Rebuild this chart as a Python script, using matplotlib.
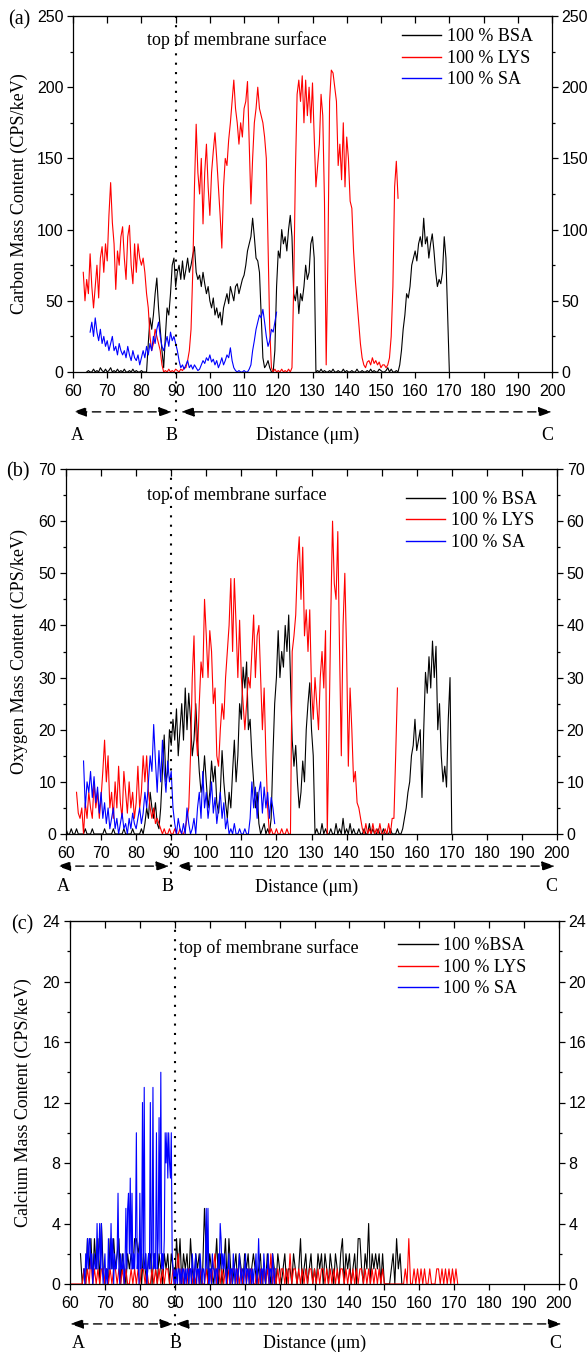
import numpy as np
import matplotlib
matplotlib.use("Agg")
import matplotlib.pyplot as plt
from matplotlib.ticker import MultipleLocator

# ---------------------- DATA -------------------------------------------------------
# every series is a scan on an even grid: first distance (um) + step, then the counts
STEP = 0.5

# (a) carbon
carbon_bsa_start = 64.0
carbon_bsa = [0, 1, 0, 0, 2, 0, 1, 0, 3, 1,
              0, 2, 0, 1, 3, 0, 1, 0, 2, 0,
              1, 0, 2, 0, 0, 1, 0, 2, 0, 1,
              0, 0, 1, 0, 0, 0, 20, 38, 30, 40,
              55, 66, 45, 30, 15, 3, 25, 45, 40, 55,
              75, 80, 60, 70, 75, 65, 78, 65, 72, 80,
              70, 75, 82, 88, 70, 65, 68, 60, 70, 62,
              55, 60, 50, 45, 52, 40, 45, 38, 42, 33,
              45, 50, 55, 48, 60, 55, 50, 60, 62, 55,
              60, 65, 68, 75, 85, 90, 95, 108, 95, 80,
              78, 70, 40, 10, 3, 5, 8, 3, 0, 0,
              15, 60, 85, 80, 100, 90, 95, 85, 100, 110,
              95, 55, 50, 60, 41, 55, 50, 60, 75, 65,
              70, 90, 95, 80, 0, 1, 0, 2, 0, 1,
              0, 0, 1, 0, 2, 0, 0, 1, 0, 0,
              2, 0, 1, 0, 0, 1, 0, 0, 2, 0,
              0, 1, 0, 0, 1, 0, 2, 0, 1, 0,
              0, 2, 1, 0, 0, 1, 3, 0, 2, 0,
              0, 1, 0, 5, 15, 30, 40, 55, 52, 60,
              75, 80, 85, 78, 90, 95, 88, 108, 90, 95,
              80, 90, 97, 85, 70, 60, 65, 62, 70, 95,
              80, 40, 0]

carbon_lys_start = 63.0
carbon_lys = [70, 50, 65, 55, 83, 60, 45, 60, 75, 52,
              80, 88, 70, 90, 78, 110, 133, 105, 90, 58,
              85, 75, 95, 102, 80, 65, 95, 103, 75, 62,
              90, 70, 90, 80, 75, 80, 70, 55, 45, 25,
              15, 20, 30, 25, 20, 15, 5, 0, 1, 0,
              2, 0, 1, 0, 2, 1, 0, 2, 1, 3,
              3, 8, 15, 30, 70, 130, 174, 140, 125, 150,
              104, 140, 160, 130, 110, 140, 155, 168, 150, 130,
              110, 87, 130, 150, 145, 163, 175, 190, 205, 185,
              175, 160, 175, 165, 185, 190, 204, 160, 118, 150,
              175, 185, 200, 185, 180, 175, 165, 150, 90, 30,
              3, 0, 2, 0, 1, 0, 2, 0, 1, 0,
              2, 0, 3, 60, 140, 195, 205, 190, 208, 175,
              205, 180, 200, 175, 203, 165, 130, 145, 160, 195,
              180, 120, 5, 80, 190, 212, 210, 200, 190, 145,
              160, 135, 175, 130, 165, 150, 120, 115, 85, 65,
              50, 35, 20, 10, 5, 3, 7, 8, 5, 10,
              6, 8, 5, 7, 3, 5, 5, 3, 5, 10,
              25, 60, 130, 148, 122]

carbon_sa_start = 65.0
carbon_sa = [28, 35, 25, 38, 28, 22, 30, 20, 25, 18,
             22, 15, 20, 25, 15, 18, 12, 20, 15, 12,
             15, 10, 18, 12, 8, 15, 10, 8, 12, 5,
             10, 15, 10, 18, 12, 20, 15, 25, 20, 30,
             35, 25, 18, 15, 20, 25, 18, 28, 22, 25,
             20, 15, 8, 3, 5, 2, 5, 8, 3, 5,
             2, 5, 3, 1, 2, 5, 8, 6, 10, 8,
             12, 7, 9, 5, 8, 3, 6, 10, 5, 8,
             12, 10, 17, 8, 3, 1, 0, 1, 0, 0,
             1, 0, 0, 2, 5, 15, 22, 30, 35, 40,
             38, 44, 35, 25, 18, 22, 30, 28, 35, 42]

# (b) oxygen
oxygen_bsa_start = 60.0
oxygen_bsa = [1, 0, 0, 1, 0, 0, 1, 0, 0, 0,
              0, 1, 0, 0, 0, 1, 0, 0, 0, 0,
              0, 0, 1, 0, 0, 0, 0, 1, 0, 0,
              0, 0, 0, 1, 0, 0, 0, 0, 1, 0,
              0, 0, 0, 1, 0, 2, 5, 3, 8, 5,
              3, 6, 2, 1, 5, 12, 19, 10, 12, 20,
              17, 22, 18, 24, 15, 20, 25, 18, 28, 20,
              27, 22, 15, 18, 25, 18, 12, 8, 10, 15,
              10, 5, 8, 14, 10, 13, 6, 4, 8, 16,
              10, 6, 3, 8, 5, 12, 18, 10, 15, 25,
              22, 32, 28, 33, 20, 22, 15, 10, 5, 8,
              2, 0, 1, 2, 0, 1, 0, 3, 15, 25,
              30, 39, 30, 35, 32, 40, 35, 42, 30, 18,
              13, 17, 10, 5, 8, 14, 10, 20, 25, 29,
              20, 15, 0, 1, 0, 0, 2, 0, 1, 0,
              0, 1, 0, 0, 2, 0, 1, 0, 3, 0,
              1, 0, 2, 0, 1, 0, 0, 1, 0, 0,
              1, 0, 0, 2, 0, 1, 0, 0, 1, 0,
              0, 1, 0, 0, 0, 1, 0, 0, 0, 1,
              0, 0, 1, 3, 5, 8, 10, 15, 17, 22,
              16, 18, 20, 7, 20, 31, 27, 34, 28, 37,
              30, 36, 20, 25, 15, 10, 13, 9, 22, 30,
              0]

oxygen_lys_start = 63.0
oxygen_lys = [8, 4, 3, 5, 0, 6, 3, 8, 5, 3,
              10, 5, 8, 3, 7, 12, 18, 10, 15, 5,
              8, 3, 10, 5, 13, 6, 3, 12, 8, 4,
              10, 5, 8, 3, 6, 13, 5, 8, 15, 10,
              15, 8, 5, 3, 5, 2, 3, 2, 1, 0,
              1, 0, 0, 1, 0, 0, 1, 0, 0, 1,
              0, 0, 1, 3, 5, 15, 30, 38, 20, 15,
              25, 33, 30, 45, 38, 30, 39, 35, 25, 28,
              15, 13, 20, 25, 22, 30, 35, 40, 49, 35,
              49, 40, 30, 41, 30, 25, 20, 25, 30, 28,
              35, 42, 30, 38, 40, 30, 20, 28, 15, 5,
              0, 1, 0, 0, 1, 0, 0, 1, 0, 0,
              1, 0, 0, 35, 38, 42, 52, 57, 45, 55,
              38, 43, 35, 43, 28, 22, 30, 25, 20, 30,
              35, 28, 39, 0, 20, 42, 60, 48, 45, 58,
              35, 15, 40, 50, 35, 13, 28, 20, 10, 12,
              6, 5, 3, 1, 0, 2, 0, 1, 0, 2,
              0, 1, 0, 2, 0, 0, 1, 0, 2, 0,
              3, 3, 15, 28]

oxygen_sa_start = 65.0
oxygen_sa = [14, 5, 10, 8, 12, 7, 11, 6, 9, 4,
             8, 3, 6, 2, 5, 1, 3, 5, 1, 3,
             0, 2, 4, 1, 2, 0, 3, 1, 4, 2,
             1, 3, 5, 2, 4, 8, 5, 10, 15, 12,
             21, 14, 8, 16, 10, 18, 12, 8, 14, 10,
             12, 5, 2, 0, 3, 1, 0, 2, 0, 5,
             2, 0, 1, 3, 0, 5, 8, 3, 12, 5,
             8, 3, 6, 10, 4, 7, 2, 5, 8, 3,
             6, 1, 3, 0, 1, 0, 2, 0, 0, 1,
             0, 0, 1, 0, 0, 3, 10, 5, 9, 3,
             8, 10, 4, 9, 5, 8, 3, 7, 5, 2]

# (c) calcium
calcium_bsa_start = 63.0
calcium_bsa = [2, 0, 1, 0, 3, 1, 3, 0, 3, 1,
               3, 0, 4, 1, 0, 1, 0, 3, 1, 3,
               1, 2, 3, 0, 2, 1, 0, 2, 1, 2,
               1, 3, 3, 2, 3, 0, 2, 1, 0, 2,
               2, 0, 2, 1, 0, 2, 1, 0, 2, 1,
               2, 0, 2, 1, 0, 3, 1, 3, 0, 2,
               1, 2, 0, 3, 1, 0, 2, 1, 2, 0,
               1, 5, 2, 0, 2, 1, 0, 1, 3, 0,
               2, 0, 1, 3, 0, 3, 1, 0, 1, 2,
               0, 2, 1, 0, 2, 1, 2, 0, 1, 2,
               1, 0, 1, 2, 0, 1, 0, 2, 1, 0,
               2, 1, 0, 2, 1, 0, 1, 2, 0, 1,
               1, 0, 2, 1, 0, 1, 3, 0, 1, 2,
               0, 1, 2, 0, 1, 0, 2, 1, 2, 0,
               2, 1, 0, 2, 1, 0, 2, 1, 0, 2,
               3, 0, 2, 1, 2, 0, 1, 2, 0, 3,
               3, 1, 0, 2, 1, 4, 0, 2, 1, 2,
               1, 2, 0, 2, 0, 0, 0, 0, 1, 2,
               0, 3, 1, 2, 0]

calcium_lys_start = 60.0
calcium_lys = [0, 0, 0, 0, 0, 0, 0, 0, 1, 0,
               1, 0, 2, 0, 1, 0, 1, 0, 1, 1,
               0, 1, 0, 1, 0, 1, 1, 0, 1, 0,
               1, 0, 1, 0, 0, 1, 0, 1, 0, 1,
               0, 1, 1, 0, 1, 0, 0, 1, 0, 1,
               0, 1, 0, 1, 0, 1, 1, 0, 0, 1,
               0, 1, 2, 0, 1, 0, 1, 0, 1, 1,
               0, 1, 0, 1, 0, 1, 0, 0, 1, 0,
               1, 0, 1, 2, 0, 1, 0, 1, 0, 1,
               0, 1, 0, 1, 1, 0, 1, 0, 1, 0,
               1, 0, 1, 0, 1, 0, 0, 1, 0, 1,
               0, 1, 0, 1, 0, 2, 0, 1, 0, 1,
               0, 1, 1, 0, 1, 0, 2, 0, 1, 1,
               0, 1, 0, 1, 0, 1, 0, 1, 1, 0,
               1, 0, 1, 0, 1, 1, 0, 1, 0, 1,
               0, 1, 0, 1, 0, 1, 1, 0, 1, 0,
               1, 0, 1, 0, 1, 0, 1, 1, 0, 1,
               0, 1, 0, 1, 0, 1, 0, 1, 0, 1,
               0, 0, 0, 0, 0, 0, 0, 0, 0, 0,
               0, 0, 1, 0, 3, 0, 0, 1, 0, 1,
               0, 1, 0, 1, 0, 0, 1, 0, 0, 0,
               1, 1, 0, 1, 0, 1, 0, 1, 0, 1,
               0, 1, 0]

calcium_sa_start = 64.0
calcium_sa_step = 0.25
calcium_sa = [1, 0, 2, 1, 3, 1, 3, 3, 1, 2, 0, 1, 2, 1, 1, 4, 1, 2, 4, 1,
              4, 1, 0, 1, 2, 0, 1, 0, 3, 1, 1, 4, 1, 3, 0, 2, 1, 1, 2, 6,
              1, 0, 2, 1, 1, 2, 0, 1, 5, 1, 5, 6, 2, 7, 1, 6, 1, 2, 1, 3,
              10, 1, 2, 0, 6, 1, 2, 12, 1, 13, 1, 2, 0, 1, 2, 1, 12, 1, 2, 13,
              1, 2, 1, 10, 1, 3, 11, 2, 14, 1, 2, 1, 3, 10, 8, 10, 7, 10, 8, 7,
              10, 2, 1, 0, 1, 0, 1, 0, 1, 1, 0, 1, 0, 1, 1, 0, 1, 0, 1, 1,
              0, 1, 1, 0, 2, 1, 0, 1, 2, 0, 1, 1, 0, 2, 1, 0, 1, 1, 0, 1,
              5, 1, 5, 0, 1, 1, 0, 2, 1, 1, 0, 1, 1, 0, 2, 1, 4, 3, 1, 2,
              1, 2, 1, 0, 1, 1, 2, 0, 1, 1, 0, 2, 1, 0, 1, 1, 0, 1, 2, 1,
              0, 1, 1, 0, 1, 2, 0, 1, 1, 0, 1, 1, 0, 1, 0, 1, 1, 2, 0, 1,
              3, 1, 0, 1, 1, 0, 2, 1, 0, 1, 1, 2, 0, 1, 1, 0, 2, 1, 0, 1,
              1]

labels_ab = ["100 % BSA", "100 % LYS", "100 % SA"]
labels_c = ["100 %BSA", "100 % LYS", "100 % SA"]
colors = ["#000000", "#ff0000", "#0000ff"]

SERIF = "Liberation Serif"
SANS = "Liberation Sans"
W, H = 587, 1361


def scan(start, values, step=STEP):
    return start + step * np.arange(len(values))


# ---------------------- ONE PANEL -------------------------
def desenhar_painel(box, series, labels, ymax, ymajor, ylabel, tag, p):
    left, top, right, bottom = box
    ax = plt.gcf().add_axes([left / W, 1 - bottom / H, (right - left) / W, (bottom - top) / H])

    for (x, y), lab, c in zip(series, labels, colors):
        ax.plot(x, y, color=c, lw=0.8, label=lab)

    ax.set_xlim(60, 200)
    ax.set_ylim(0, ymax)
    ax.xaxis.set_major_locator(MultipleLocator(10))
    ax.yaxis.set_major_locator(MultipleLocator(ymajor))
    ax.yaxis.set_minor_locator(MultipleLocator(ymajor / 2))
    ax.tick_params(axis="x", which="both", direction="out", length=4, width=0.9, pad=5,
                   labelsize=11.5)
    ax.tick_params(axis="y", which="major", direction="out", length=4, width=0.9, pad=3,
                   labelsize=11.5, right=True, labelright=True)
    ax.tick_params(axis="y", which="minor", direction="out", length=2.5, width=0.9, right=True)
    for lab in ax.get_xticklabels() + ax.get_yticklabels():
        lab.set_fontfamily(SANS)
    for s in ax.spines.values():
        s.set_linewidth(0.9)

    sec = ax.secondary_xaxis("top")
    sec.xaxis.set_major_locator(MultipleLocator(10))
    sec.tick_params(axis="x", direction="in", length=5, width=0.9, labeltop=False)

    trans = ax.get_xaxis_transform()
    # membrane surface marker
    ax.plot([90, 90], [p["dot_end"], 1], transform=trans, color="black", lw=1.5,
            linestyle=(0, (1, 3.5)), clip_on=False)
    ax.text(p["surf_x"], p["surf_y"], "top of membrane surface", transform=trans,
            family=SERIF, fontsize=13, va="center", ha="left")

    # A <-> B <-> C arrows
    arrow_kw = dict(arrowstyle="<|-|>,head_length=0.8,head_width=0.28", color="black",
                    lw=1.0, linestyle=(0, (6, 4)), shrinkA=0, shrinkB=0)
    for x0, x1 in p["arrows"]:
        ax.annotate("", xy=(x0, p["arrow_y"]), xytext=(x1, p["arrow_y"]), xycoords=trans,
                    textcoords=trans, arrowprops=arrow_kw, annotation_clip=False)
    for txt, xpos in zip("ABC", p["abc_x"]):
        ax.text(xpos, p["abc_y"], txt, transform=trans, family=SERIF, fontsize=13,
                ha="center", va="center")
    ax.text(p["dist_x"], p["abc_y"], "Distance (\u03bcm)", transform=trans, family=SERIF,
            fontsize=13, ha="center", va="center")

    ax.text(p["ylab_x"], 0.5, ylabel, transform=ax.transAxes, rotation=90, family=SERIF,
            fontsize=13, ha="center", va="center")
    plt.gcf().text(p["tag_xy"][0] / W, 1 - p["tag_xy"][1] / H, tag, family=SERIF,
                   fontsize=14.5, ha="center", va="center")

    leg = ax.legend(loc="upper left", bbox_to_anchor=p["leg"], frameon=False,
                    prop={"family": SERIF, "size": 13}, handlelength=2.2,
                    handletextpad=0.3, labelspacing=0.25, borderpad=0, borderaxespad=0)
    for h in leg.get_lines():
        h.set_linewidth(1.0)
    return ax


fig = plt.figure(figsize=(W / 100, H / 100), dpi=100)

desenhar_painel(
    (73, 16, 552, 372),
    [(scan(carbon_bsa_start, carbon_bsa), carbon_bsa),
     (scan(carbon_lys_start, carbon_lys), carbon_lys),
     (scan(carbon_sa_start, carbon_sa), carbon_sa)],
    labels_ab, 250, 50, "Carbon Mass Content (CPS/keV)", "(a)",
    dict(dot_end=-0.138, surf_x=81.6, surf_y=0.932, arrow_y=-0.112,
         arrows=[(60, 89), (91.5, 200)], abc_y=-0.177, abc_x=[61.3, 88.7, 198.5],
         dist_x=128.5, ylab_x=-0.113, tag_xy=(19, 20), leg=(0.686, 0.965)))

desenhar_painel(
    (66, 469, 557, 834),
    [(scan(oxygen_bsa_start, oxygen_bsa), oxygen_bsa),
     (scan(oxygen_lys_start, oxygen_lys), oxygen_lys),
     (scan(oxygen_sa_start, oxygen_sa), oxygen_sa)],
    labels_ab, 70, 10, "Oxygen Mass Content (CPS/keV)", "(b)",
    dict(dot_end=-0.134, surf_x=83.0, surf_y=0.929, arrow_y=-0.088,
         arrows=[(57.5, 89.5), (91.5, 199.5)], abc_y=-0.145, abc_x=[59.2, 89.0, 198.5],
         dist_x=128.5, ylab_x=-0.095, tag_xy=(18, 472), leg=(0.692, 0.94)))

desenhar_painel(
    (70, 921, 559, 1284),
    [(scan(calcium_bsa_start, calcium_bsa), calcium_bsa),
     (scan(calcium_lys_start, calcium_lys), calcium_lys),
     (scan(calcium_sa_start, calcium_sa, calcium_sa_step), calcium_sa)],
    labels_c, 24, 4, "Calcium Mass Content (CPS/keV)", "(c)",
    dict(dot_end=-0.14, surf_x=91.2, surf_y=0.926, arrow_y=-0.110,
         arrows=[(60, 89.6), (90.2, 200.8)], abc_y=-0.163, abc_x=[62.3, 90.2, 199.0],
         dist_x=130.0, ylab_x=-0.095, tag_xy=(22, 925), leg=(0.671, 0.955)))

fig.savefig("out.png", dpi=100)
